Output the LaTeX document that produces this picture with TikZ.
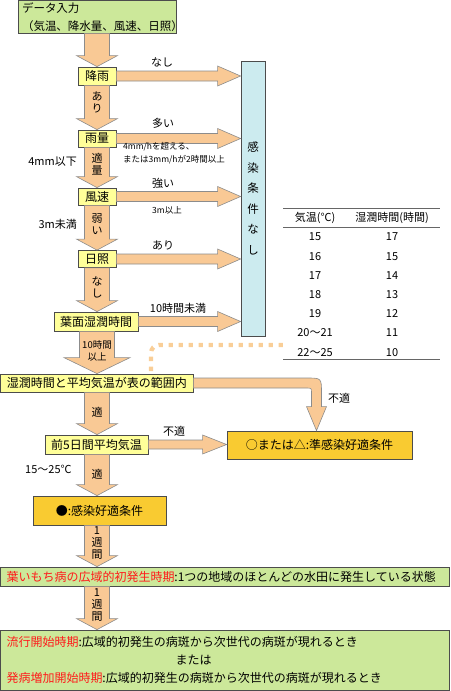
\documentclass[tikz,border=0pt]{standalone}
\usepackage{fontspec}
\setmainfont{Noto Sans CJK JP}
\usepackage{tikz}
\usepackage{xcolor}
\usetikzlibrary{calc}
\definecolor{Blast_Peach}{HTML}{F9C995}
\definecolor{Blast_Leaf}{HTML}{CCE89A}
\definecolor{Blast_Lemon}{HTML}{FFFF99}
\definecolor{Blast_Gold}{HTML}{F9CB31}
\definecolor{Blast_Sky}{HTML}{CCEBEF}
\definecolor{Blast_Dot}{HTML}{F9CE97}
\definecolor{Blast_Red}{HTML}{FF1A1A}
\newcommand{\flowfont}{\fontsize{12pt}{14pt}\selectfont}
\newcommand{\tagfont}{\fontsize{11pt}{12pt}\selectfont}
\newcommand{\notefont}{\fontsize{8.5pt}{13pt}\selectfont}
% fat arrow downwards: from, to, shaft half width, head half width, head length
\newcommand{\vfatarrow}[5]{%
  \filldraw[fatarrow] let \p1=(#1), \p2=(#2) in
    (\x1-#3,\y1) -- (\x1+#3,\y1) -- (\x1+#3,\y2+#5) -- (\x1+#4,\y2+#5)
    -- (\x1,\y2) -- (\x1-#4,\y2+#5) -- (\x1-#3,\y2+#5) -- cycle;}
% fat arrow to the right: from, to, shaft half width, head half width, head length
\newcommand{\hfatarrow}[5]{%
  \filldraw[fatarrow] let \p1=(#1), \p2=(#2) in
    (\x1,\y1-#3) -- (\x1,\y1+#3) -- (\x2-#5,\y1+#3) -- (\x2-#5,\y1+#4)
    -- (\x2,\y1) -- (\x2-#5,\y1-#4) -- (\x2-#5,\y1-#3) -- cycle;}

\begin{document}
\begin{tikzpicture}[x=1pt,y=-1pt,
    box/.style={draw=black!70, line width=0.8pt, inner sep=0pt, font=\flowfont},
    fatarrow/.style={fill=Blast_Peach, draw=black!45, line width=0.6pt},
    tag/.style={font=\tagfont, inner sep=0pt},
    note/.style={font=\notefont, inner sep=0pt, align=left},
    dotline/.style={draw=Blast_Dot, line width=4.3pt, dash pattern=on 4.3pt off 5.7pt},
    tabrule/.style={draw=black!60, line width=0.8pt},
    tabtext/.style={font=\tagfont, inner sep=0pt}]

    \useasboundingbox (0,0) rectangle (450,691);

    % === Dotted link from the table ===
    \coordinate (dotstart) at (151,371);
    \coordinate (tabcorner) at (283,345);
    \draw[dotline, rounded corners=8pt] (dotstart) |- (tabcorner);

    % === Boxes of the main column ===
    \node[box, fill=Blast_Leaf, minimum width=158, minimum height=32.5, text width=150,
          align=left, font=\fontsize{11.5pt}{18pt}\selectfont] (input) at (97,16.75)
          {データ入力\\（気温、降水量、風速、日照）};
    \node[box, fill=Blast_Lemon, minimum width=38, minimum height=18] (rain) at (97,76) {降雨};
    \node[box, fill=Blast_Lemon, minimum width=38, minimum height=17] (amount) at (97,138.5) {雨量};
    \node[box, fill=Blast_Lemon, minimum width=38, minimum height=17] (wind) at (97,196.5) {風速};
    \node[box, fill=Blast_Lemon, minimum width=38, minimum height=17] (sun) at (97,259) {日照};
    \node[box, fill=Blast_Lemon, minimum width=84, minimum height=19] (wet) at (96,321.5) {葉面湿潤時間};
    \node[box, fill=Blast_Lemon, minimum width=192.5, minimum height=18] (range) at (96.75,383)
          {湿潤時間と平均気温が表の範囲内};
    \node[box, fill=Blast_Lemon, minimum width=103, minimum height=19] (temp5) at (96.5,444.5)
          {前5日間平均気温};
    \node[box, fill=Blast_Gold, minimum width=185, minimum height=28] (semi) at (319.5,445)
          {○または△:準感染好適条件};
    \node[box, fill=Blast_Gold, minimum width=133, minimum height=29] (good) at (99.5,510.5)
          {●:感染好適条件};
    \node[box, fill=Blast_Leaf, minimum width=449, minimum height=19, text width=437,
          align=left] (first) at (225,576.5)
          {\textcolor{Blast_Red}{葉いもち病の広域的初発生時期}:1つの地域のほとんどの水田に発生している状態};
    \node[box, fill=Blast_Leaf, minimum width=449, minimum height=60.5, text width=437,
          align=left, font=\fontsize{12pt}{18pt}\selectfont] (epi) at (225,660.25)
          {\textcolor{Blast_Red}{流行開始時期}:広域的初発生の病斑から次世代の病斑が現れるとき\\
           \hspace*{169pt}または\\
           \textcolor{Blast_Red}{発病増加開始時期}:広域的初発生の病斑から次世代の病斑が現れるとき};

    % === No infection condition ===
    \node[box, fill=Blast_Sky, minimum width=24, minimum height=275, align=center,
          font=\fontsize{11.5pt}{20.6pt}\selectfont] (none) at (253,198.5)
          {感\\染\\条\\件\\な\\し};

    % === Fat arrows ===
    \vfatarrow{input.south}{rain.north}{12.5pt}{20.5pt}{11pt}
    \vfatarrow{rain.south}{amount.north}{12.5pt}{20.5pt}{11pt}
    \vfatarrow{amount.south}{wind.north}{12.5pt}{20.5pt}{11pt}
    \vfatarrow{wind.south}{sun.north}{12.5pt}{20.5pt}{11pt}
    \vfatarrow{sun.south}{wet.north}{12.5pt}{20.5pt}{11pt}
    \vfatarrow{wet.south -| rain.south}{range.north}{17.5pt}{33pt}{16pt}
    \vfatarrow{range.south -| rain.south}{temp5.north}{12.5pt}{20.5pt}{11pt}
    \vfatarrow{temp5.south -| rain.south}{good.north}{12.5pt}{20.5pt}{11pt}
    \vfatarrow{good.south -| rain.south}{first.north}{12.5pt}{20.5pt}{11pt}
    \vfatarrow{first.south -| rain.south}{epi.north}{12.5pt}{20.5pt}{11pt}

    \hfatarrow{rain.east}{none.west}{5pt}{10pt}{23pt}
    \hfatarrow{amount.east}{none.west}{5pt}{10pt}{23pt}
    \hfatarrow{wind.east}{none.west}{5pt}{10pt}{23pt}
    \hfatarrow{sun.east}{none.west}{5pt}{10pt}{23pt}
    \hfatarrow{wet.east}{none.west}{5pt}{10pt}{23pt}
    \hfatarrow{temp5.east}{semi.west}{4.5pt}{9.5pt}{24pt}

    % bent arrow to the semi box
    \coordinate (bend) at (316.5,383);
    \filldraw[fatarrow] let \p1=(range.east), \p2=(bend), \p3=(semi.north) in
        (\x1,\y1+5pt) -- (\x2-10pt,\y1+5pt) .. controls (\x2+5pt,\y1+5pt) .. (\x2+5pt,\y1-10pt)
        -- (\x2+5pt,\y3+24pt) -- (\x2+10pt,\y3+24pt) -- (\x2,\y3) -- (\x2-10pt,\y3+24pt)
        -- (\x2-5pt,\y3+24pt) -- (\x2-5pt,\y1-10pt) .. controls (\x2-5pt,\y1-5pt) .. (\x2-10pt,\y1-5pt)
        -- (\x1,\y1-5pt) -- cycle;

    % === Labels ===
    \node[tag, align=center] (l-rain) at (97,102) {あ\\り};
    \node[tag, align=center] (l-fit) at (97,164) {適\\量};
    \node[tag, align=center] (l-weak) at (97,224) {弱\\い};
    \node[tag, align=center] (l-dark) at (97,287) {な\\し};
    \node[tag, align=center, font=\fontsize{9.5pt}{12pt}\selectfont] (l-ge10) at (97,351) {10時間\\以上};
    \node[tag] (l-ok1) at (97,412) {適};
    \node[tag] (l-ok2) at (97,474) {適};
    \node[tag, align=center] (l-week1) at (97,543) {1\\週\\間};
    \node[tag, align=center] (l-week2) at (97,605) {1\\週\\間};

    \node[tag] (l-norain) at (162,62) {なし};
    \node[tag] (l-many) at (163,123) {多い};
    \node[note, anchor=west] (n-many) at (123,153.5) {4mm/hを超える、\\または3mm/hが2時間以上};
    \node[tag, anchor=east] (l-le4) at (77,162) {4mm以下};
    \node[tag] (l-strong) at (163,183) {強い};
    \node[note] (n-strong) at (167,210) {3m以上};
    \node[tag, anchor=east] (l-lt3) at (77,224) {3m未満};
    \node[tag] (l-sunny) at (163,245) {あり};
    \node[tag] (l-lt10) at (178,308) {10時間未満};
    \node[tag] (l-ng1) at (339,398) {不適};
    \node[tag] (l-ng2) at (174,431) {不適};
    \node[tag, anchor=west] (l-range) at (25,469) {15〜25℃};

    % === Table of temperature and wetness ===
    \draw[tabrule] (283,208) -- (440,208);
    \draw[tabrule] (283,227) -- (440,227);
    \draw[tabrule] (283,359) -- (440,359);
    \node[tabtext] (th-temp) at (315,218) {気温(℃)};
    \node[tabtext] (th-wet) at (392,218) {湿潤時間(時間)};
    \foreach \t/\h [count=\i from 0] in {15/17,16/15,17/14,18/13,19/12,20〜21/11,22〜25/10} {
        \node[tabtext] (tt-\i) at (315,{237+19.2*\i}) {\t};
        \node[tabtext] (tw-\i) at (392,{237+19.2*\i}) {\h};
    }

\end{tikzpicture}
\end{document}
